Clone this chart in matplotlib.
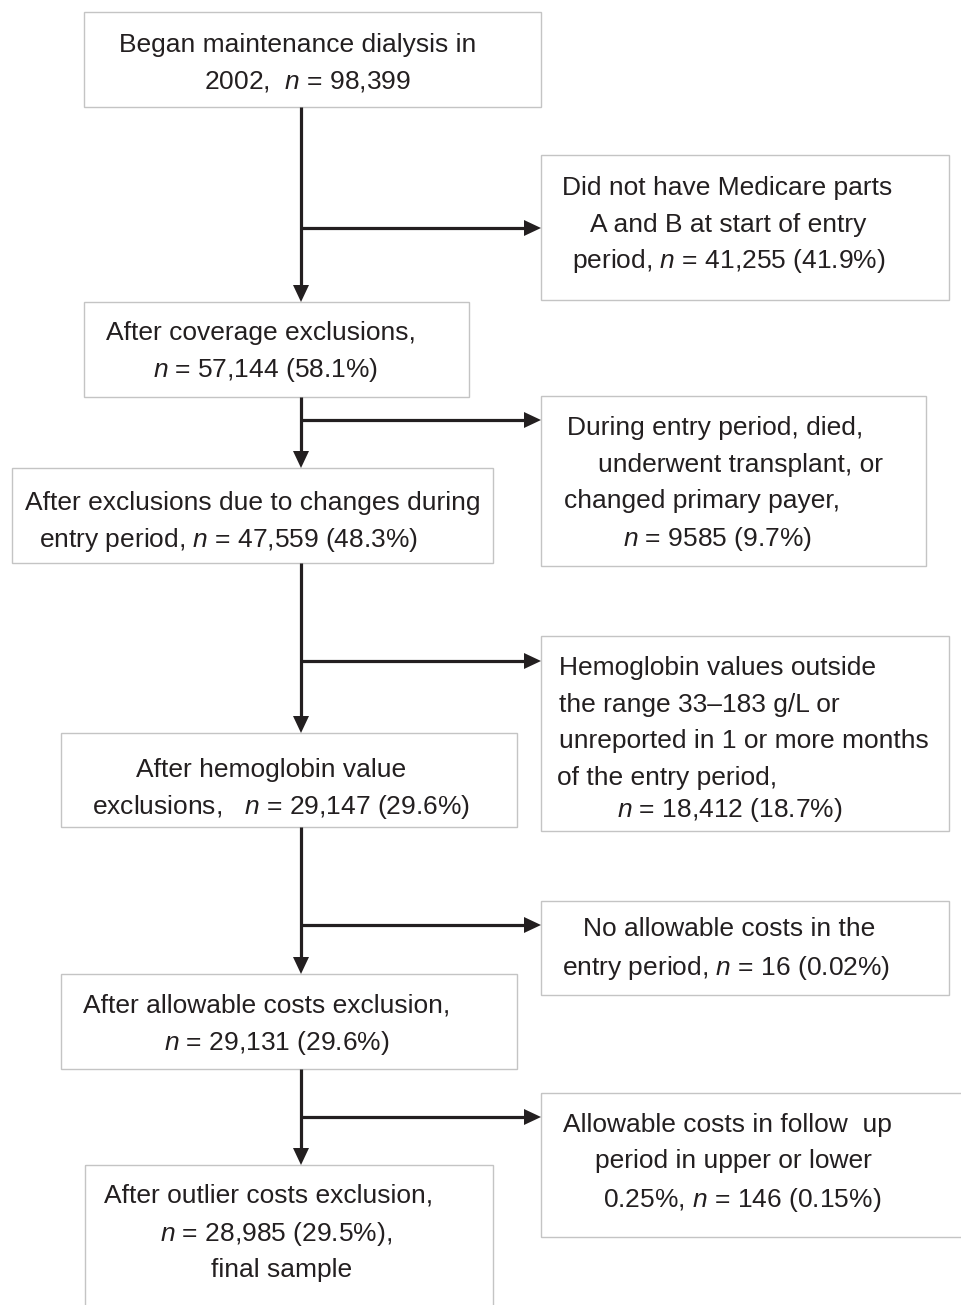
import matplotlib
matplotlib.use("Agg")
import matplotlib.pyplot as plt
from matplotlib.patches import Rectangle

plt.rcParams['font.family'] = ['Liberation Sans', 'DejaVu Sans']
plt.rcParams['mathtext.fontset'] = 'custom'
plt.rcParams['mathtext.rm'] = 'Liberation Sans'
plt.rcParams['mathtext.it'] = 'Liberation Sans:italic'

# text of the boxes, one list of lines per box
main_lines = [
    ["Began maintenance dialysis in", "2002,  $n$ = 98,399"],
    ["After coverage exclusions,", "$n$ = 57,144 (58.1%)"],
    ["After exclusions due to changes during", "entry period, $n$ = 47,559 (48.3%)"],
    ["After hemoglobin value", "exclusions,   $n$ = 29,147 (29.6%)"],
    ["After allowable costs exclusion,", "$n$ = 29,131 (29.6%)"],
    ["After outlier costs exclusion,", "$n$ = 28,985 (29.5%),", "final sample"],
]
excl_lines = [
    ["Did not have Medicare parts", "A and B at start of entry",
     "period, $n$ = 41,255 (41.9%)"],
    ["During entry period, died,", "underwent transplant, or",
     "changed primary payer,", "$n$ = 9585 (9.7%)"],
    ["Hemoglobin values outside", "the range 33\u2013183 g/L or",
     "unreported in 1 or more months", "of the entry period,",
     "$n$ = 18,412 (18.7%)"],
    ["No allowable costs in the", "entry period, $n$ = 16 (0.02%)"],
    ["Allowable costs in follow  up", "period in upper or lower",
     "0.25%, $n$ = 146 (0.15%)"],
]

# layout in pixels: box (x0, y0, x1, y1), per-line left x and baseline y
main_boxes = [(84, 12, 541, 107), (84, 302, 469, 397), (12, 468, 493, 563),
              (61, 733, 517, 827), (61, 974, 517, 1069), (85, 1165, 493, 1320)]
main_text_x = [[119, 204], [106, 153], [25, 39], [136, 92], [83, 164], [104, 160, 211]]
main_text_y = [[52, 89], [340, 377], [510, 547], [777, 814], [1013, 1050], [1203, 1241, 1277]]

excl_boxes = [(541, 155, 949, 300), (541, 396, 926, 566), (541, 636, 949, 831),
              (541, 901, 949, 995), (541, 1093, 975, 1237)]
excl_text_x = [[562, 590, 572], [567, 598, 564, 623], [559, 559, 559, 557, 617],
               [583, 562], [563, 595, 603]]
excl_text_y = [[195, 232, 268], [435, 472, 508, 546], [675, 712, 748, 785, 817],
               [936, 975], [1132, 1168, 1207]]
branch_y = [228, 420, 661, 925, 1117]

ink = '#231f20'
edge = '#c4c4c4'
spine_x = 301

fig = plt.figure(figsize=(9.61, 13.05), dpi=100)
ax = fig.add_axes([0, 0, 1, 1])
ax.set_xlim(0, 961)
ax.set_ylim(1305, 0)
ax.axis('off')


def box(b):
    x0, y0, x1, y1 = b
    ax.add_patch(Rectangle((x0, y0), x1 - x0, y1 - y0, fill=False,
                           edgecolor=edge, linewidth=1.0))


def arrow_down(x, y0, y1):
    ax.plot([x, x], [y0, y1 - 14], color=ink, lw=2.3, solid_capstyle='butt')
    ax.fill([x - 8, x + 8, x], [y1 - 17, y1 - 17, y1], color=ink, lw=0)


def arrow_right(y, x0, x1):
    ax.plot([x0, x1 - 14], [y, y], color=ink, lw=2.3, solid_capstyle='butt')
    ax.fill([x1 - 17, x1 - 17, x1], [y - 8, y + 8, y], color=ink, lw=0)


for b, lines, xs, ys in zip(main_boxes, main_lines, main_text_x, main_text_y):
    box(b)
    for s, tx, ty in zip(lines, xs, ys):
        ax.text(tx, ty, s, fontsize=19, color=ink, ha='left', va='baseline')

for b, lines, xs, ys in zip(excl_boxes, excl_lines, excl_text_x, excl_text_y):
    box(b)
    for s, tx, ty in zip(lines, xs, ys):
        ax.text(tx, ty, s, fontsize=19, color=ink, ha='left', va='baseline')

for i in range(len(main_boxes) - 1):
    arrow_down(spine_x, main_boxes[i][3], main_boxes[i + 1][1])
    arrow_right(branch_y[i], spine_x, excl_boxes[i][0])

fig.savefig('out.png', dpi=100)
